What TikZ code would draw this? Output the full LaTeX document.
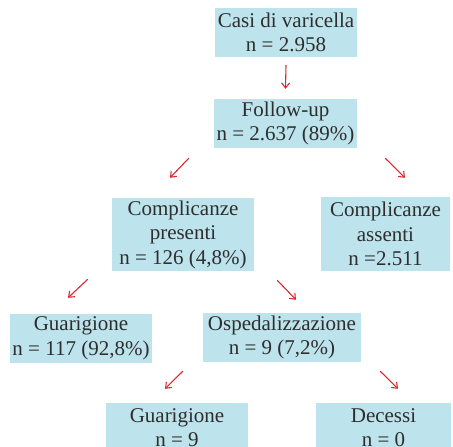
\documentclass[tikz,border=0pt]{standalone}
\usepackage{fontspec}
\setmainfont{Liberation Serif}
\usepackage{xcolor}
\usetikzlibrary{arrows.meta}

\definecolor{azzurro}{HTML}{BDE3EC}
\definecolor{rosso}{HTML}{DA2A30}
\definecolor{testo}{HTML}{2E2E2E}

\tikzset{
  casella/.style={fill=azzurro, text=testo, align=center, inner sep=0pt,
    font=\fontsize{21}{24.5}\selectfont},
  freccia/.style={rosso, line width=1.1pt, -{Straight Barb[length=5pt,width=8pt]}}
}

\begin{document}
\begin{tikzpicture}[x=1pt, y=-1pt]
\useasboundingbox (0,0) rectangle (453,447);

% Caselle
\node[casella, minimum width=142, minimum height=49] (casi) at (286,32.5) {Casi di varicella\\n = 2.958};
\node[casella, minimum width=143, minimum height=49] (follow) at (285.5,123.5) {Follow-up\\n = 2.637 (89\%)};
\node[casella, minimum width=142, minimum height=73] (presenti) at (183,234.5) {Complicanze\\presenti\\n = 126 (4,8\%)};
\node[casella, minimum width=129, minimum height=74] (assenti) at (385.5,234) {Complicanze\\assenti\\n =2.511};
\node[casella, minimum width=142, minimum height=49] (guar1) at (81,338.5) {Guarigione\\n = 117 (92,8\%)};
\node[casella, minimum width=158, minimum height=49] (osped) at (282,337.5) {Ospedalizzazione\\n = 9 (7,2\%)};
\node[casella, minimum width=142, minimum height=49] (guar2) at (177,427.5) {Guarigione\\n = 9};
\node[casella, minimum width=135, minimum height=49] (decessi) at (383.5,427.5) {Decessi\\n = 0};

% Frecce
\draw[freccia] ([shift={(0,8)}]casi.south) -- ([shift={(0,-10)}]follow.north);
\draw[freccia] ([shift={(-25,10)}]follow.south west) -- ([shift={(-13,-20)}]presenti.north);
\draw[freccia] ([shift={(28,10)}]follow.south east) -- ([shift={(19.5,-19)}]assenti.north);
\draw[freccia] ([shift={(-24,8)}]presenti.south west) -- ([shift={(-13,-16)}]guar1.north);
\draw[freccia] ([shift={(23,9)}]presenti.south east) -- ([shift={(14,-13)}]osped.north);
\draw[freccia] ([shift={(-20,9)}]osped.south west) -- ([shift={(-12,-14)}]guar2.north);
\draw[freccia] ([shift={(19,9)}]osped.south east) -- ([shift={(14.5,-14)}]decessi.north);
\end{tikzpicture}
\end{document}
